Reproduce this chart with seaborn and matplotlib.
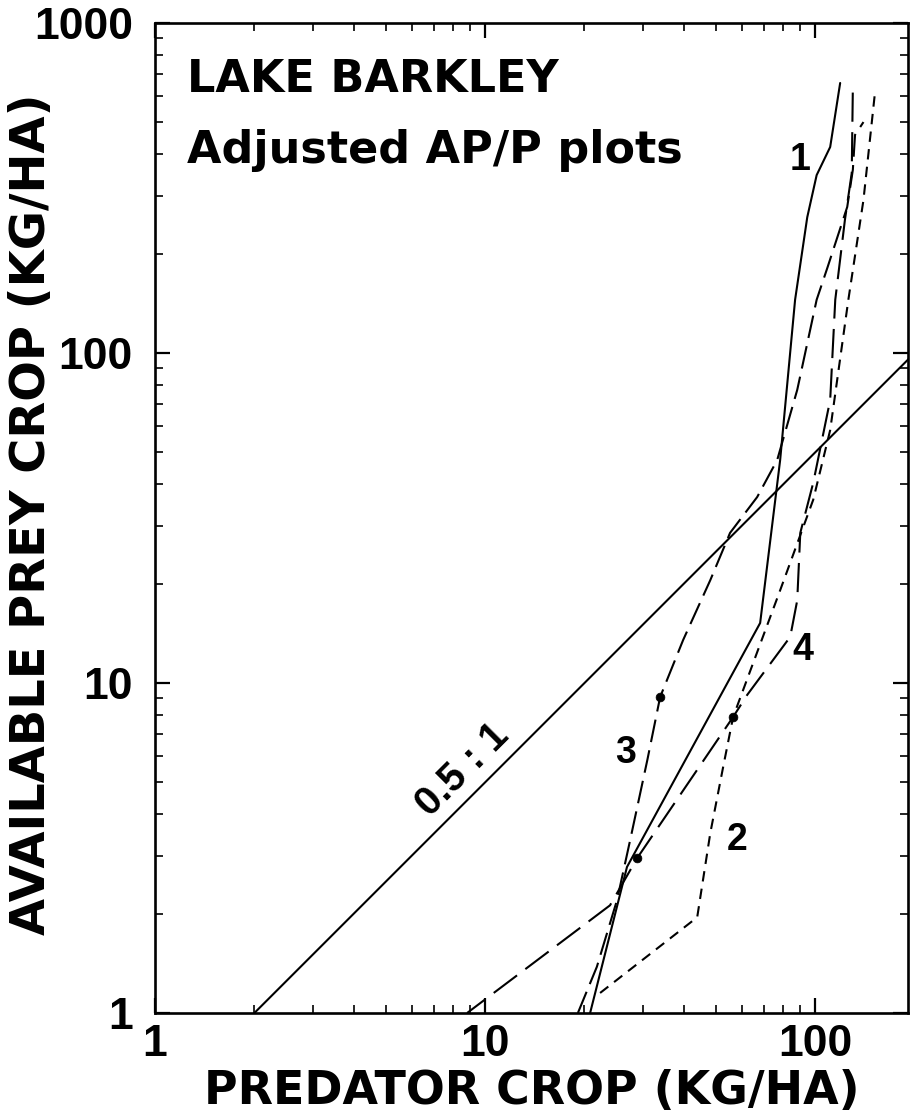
import numpy as np
import pandas as pd
import matplotlib
matplotlib.use("Agg")
import matplotlib.pyplot as plt
import seaborn as sns

# ---------------- data ----------------
# Curve 1 (solid)
c1_x = [20.8, 26.9, 68.1, 78.3, 86.9, 94.6, 101, 111, 119]
c1_y = [1.0, 2.77, 15.2, 47.4, 145, 258, 346, 421, 658]
# Curve 2 (short dashes)
c2_x = [22.3, 43.9, 48.1, 52.6, 56.4, 78.3, 98.6, 111, 126, 140, 152]
c2_y = [1.15, 1.95, 3.51, 5.56, 7.89, 19.1, 35.9, 58.4, 145, 291, 627]
# Curve 3 (long dashes)
c3_x = [19.1, 21.8, 25.1, 27.5, 31.0, 33.9, 39.8, 48.1, 55.2, 66.7, 76.7, 88.2, 101, 109, 125, 130, 132, 140]
c3_y = [1.0, 1.38, 2.20, 3.34, 5.84, 9.07, 13.5, 20.5, 28.5, 36.6, 47.4, 77.3, 145, 182, 277, 359, 458, 501]
# Curve 4 (long dashes)
c4_x = [8.82, 23.9, 28.9, 56.4, 62.2, 84.0, 88.2, 90.1, 98.6, 111, 115, 123, 129, 130]
c4_y = [1.0, 2.12, 2.95, 7.89, 9.20, 13.8, 17.8, 28.5, 40.4, 72.1, 145, 253, 351, 635]
# marked points
dot_x = [33.9, 28.9, 56.4]
dot_y = [9.07, 2.95, 7.89]
# 0.5 : 1 reference line
ratio_x = [2, 200]
ratio_y = [1, 100]

curve_labels = ["1", "2", "3", "4"]
label_x = [90.1, 58.0, 26.6, 92.0]
label_y = [385, 3.34, 6.14, 12.6]

x_ticks = [1, 10, 100]
x_ticklabels = ["1", "10", "100"]
y_ticks = [1, 10, 100, 1000]
y_ticklabels = ["1", "10", "100", "1000"]

# ---------------- figure ----------------
sns.set_style("ticks")
plt.rcParams["font.family"] = ["DejaVu Sans"]

W, H = 916, 1118
fig = plt.figure(figsize=(W / 100, H / 100), dpi=100)
L, R, T, B = 155, 908, 23, 1013
ax = fig.add_axes([L / W, 1 - B / H, (R - L) / W, (B - T) / H])
ax.set_xscale("log")
ax.set_yscale("log")

lw = 1.5
sns.lineplot(x=ratio_x, y=ratio_y, sort=False, estimator=None, color="black", lw=lw, ax=ax)
sns.lineplot(x=c1_x, y=c1_y, sort=False, estimator=None, color="black", lw=lw, ax=ax)
sns.lineplot(x=c2_x, y=c2_y, sort=False, estimator=None, color="black", lw=lw,
             linestyle=(0, (5, 3.5)), ax=ax)
sns.lineplot(x=c3_x, y=c3_y, sort=False, estimator=None, color="black", lw=lw,
             linestyle=(0, (11, 4)), ax=ax)
sns.lineplot(x=c4_x, y=c4_y, sort=False, estimator=None, color="black", lw=lw,
             linestyle=(3, (14, 5)), ax=ax)
sns.scatterplot(x=dot_x, y=dot_y, color="black", s=40, edgecolor="black", ax=ax, zorder=5)

ax.set_xlim(1, 191)
ax.set_ylim(1, 1000)

ax.set_xticks(x_ticks)
ax.set_xticklabels(x_ticklabels)
ax.set_yticks(y_ticks)
ax.set_yticklabels(y_ticklabels)

for s in ax.spines.values():
    s.set_linewidth(1.9)
    s.set_color("black")
ax.tick_params(which="major", direction="in", length=11, width=1.6, top=True, right=True,
               labelsize=32, pad=8, colors="black")
ax.tick_params(axis="y", which="major", pad=16)
ax.tick_params(which="minor", direction="in", length=6, width=1.4, top=True, right=True)
for lab in ax.get_xticklabels() + ax.get_yticklabels():
    lab.set_fontfamily(["Liberation Sans"])
    lab.set_fontweight("bold")

ax.set_xlabel("")
ax.set_ylabel("")

fig.text(((L + R) / 2) / W, 1 - 1091 / H, "PREDATOR CROP (KG/HA)", ha="center", va="center",
         fontsize=33, fontweight="bold", color="black")
fig.text(32 / W, 1 - 514 / H, "AVAILABLE PREY CROP (KG/HA)", ha="center", va="center",
         rotation=90, fontsize=34.5, fontweight="bold", color="black")

fig.text(187 / W, 1 - 80 / H, "LAKE BARKLEY", ha="left", va="center",
         fontsize=32, fontweight="bold", color="black")
fig.text(187 / W, 1 - 150 / H, "Adjusted AP/P plots", ha="left", va="center",
         fontsize=32, fontweight="bold", color="black")

for t, x, y in zip(curve_labels, label_x, label_y):
    ax.text(x, y, t, ha="center", va="center", fontsize=27, fontweight="bold",
            family=["Liberation Sans"], color="black")
ax.text(8.52, 5.45, "0.5 : 1", ha="center", va="center", rotation=45, fontsize=29,
        fontweight="bold", family=["Liberation Sans"], color="black")

fig.savefig("out.png", dpi=100, facecolor="white")
